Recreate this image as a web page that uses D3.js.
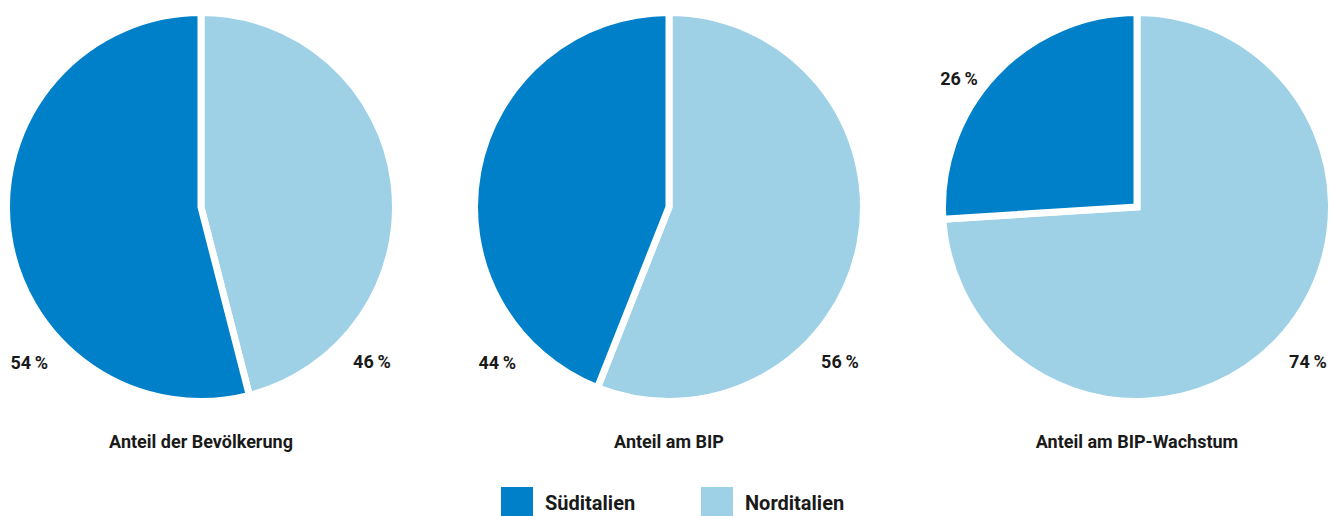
<!DOCTYPE html>
<html>
<head>
<meta charset="utf-8">
<script src="https://cdn.jsdelivr.net/npm/d3@7"></script>
<style>
  body { margin: 0; background: #fff; }
  text { font-family: Roboto, "Liberation Sans", sans-serif; font-weight: bold; fill: #1a1a1a; }
</style>
</head>
<body>
<div id="chart"></div>
<script>
// data
const regions = ["Norditalien", "Süditalien"];
const titles = ["Anteil der Bevölkerung", "Anteil am BIP", "Anteil am BIP-Wachstum"];
const north = [46, 56, 74];
const south = [54, 44, 26];

var width = 1339, height = 516;
var colors = { "Süditalien": "#0080c8", "Norditalien": "#9fd1e6" };

// layout of the three pies
var centersX = [201, 669, 1137], centerY = 207, radius = 191, gap = 7;
// where each percentage label sits (angle in degrees clockwise from top, distance from centre)
var labelPos = [
  { "Norditalien": [132, 230], "Süditalien": [228, 231] },
  { "Norditalien": [132, 230], "Süditalien": [228, 231] },
  { "Norditalien": [132, 230], "Süditalien": [306, 220] },
];

var svg = d3.select("#chart").append("svg")
  .attr("width", width)
  .attr("height", height);

var pie = d3.pie().sort(null).value(d => d.value);
// white stroke eats half its width on the rim, so grow the arc by that
var arc = d3.arc().innerRadius(0).outerRadius(radius + gap / 2);

titles.forEach(function (title, i) {
  var data = [
    { key: "Norditalien", value: north[i] },
    { key: "Süditalien", value: south[i] },
  ];
  var g = svg.append("g")
    .attr("transform", "translate(" + centersX[i] + "," + centerY + ")");

  g.selectAll("path")
    .data(pie(data))
    .enter()
    .append("path")
    .attr("d", arc)
    .attr("fill", d => colors[d.data.key])
    .attr("stroke", "#fff")
    .attr("stroke-width", gap)
    .attr("stroke-linejoin", "miter");

  g.selectAll("text.pct")
    .data(data)
    .enter()
    .append("text")
    .attr("class", "pct")
    .attr("text-anchor", "middle")
    .attr("font-size", 18)
    .attr("x", d => Math.sin(labelPos[i][d.key][0] * Math.PI / 180) * labelPos[i][d.key][1])
    .attr("y", d => -Math.cos(labelPos[i][d.key][0] * Math.PI / 180) * labelPos[i][d.key][1] + 7)
    .text(d => d.value + "\u2009%");

  svg.append("text")
    .attr("text-anchor", "middle")
    .attr("font-size", 18)
    .attr("x", centersX[i])
    .attr("y", 448)
    .text(title);
});

// legend
var legend = svg.append("g").attr("transform", "translate(501,487)");
var legendItems = ["Süditalien", "Norditalien"];
legendItems.forEach(function (key, i) {
  var item = legend.append("g").attr("transform", "translate(" + i * 200 + ",0)");
  item.append("rect")
    .attr("width", 32)
    .attr("height", 30)
    .attr("fill", colors[key]);
  item.append("text")
    .attr("x", 44)
    .attr("y", 23)
    .attr("font-size", 20)
    .text(key);
});
</script>
</body>
</html>
